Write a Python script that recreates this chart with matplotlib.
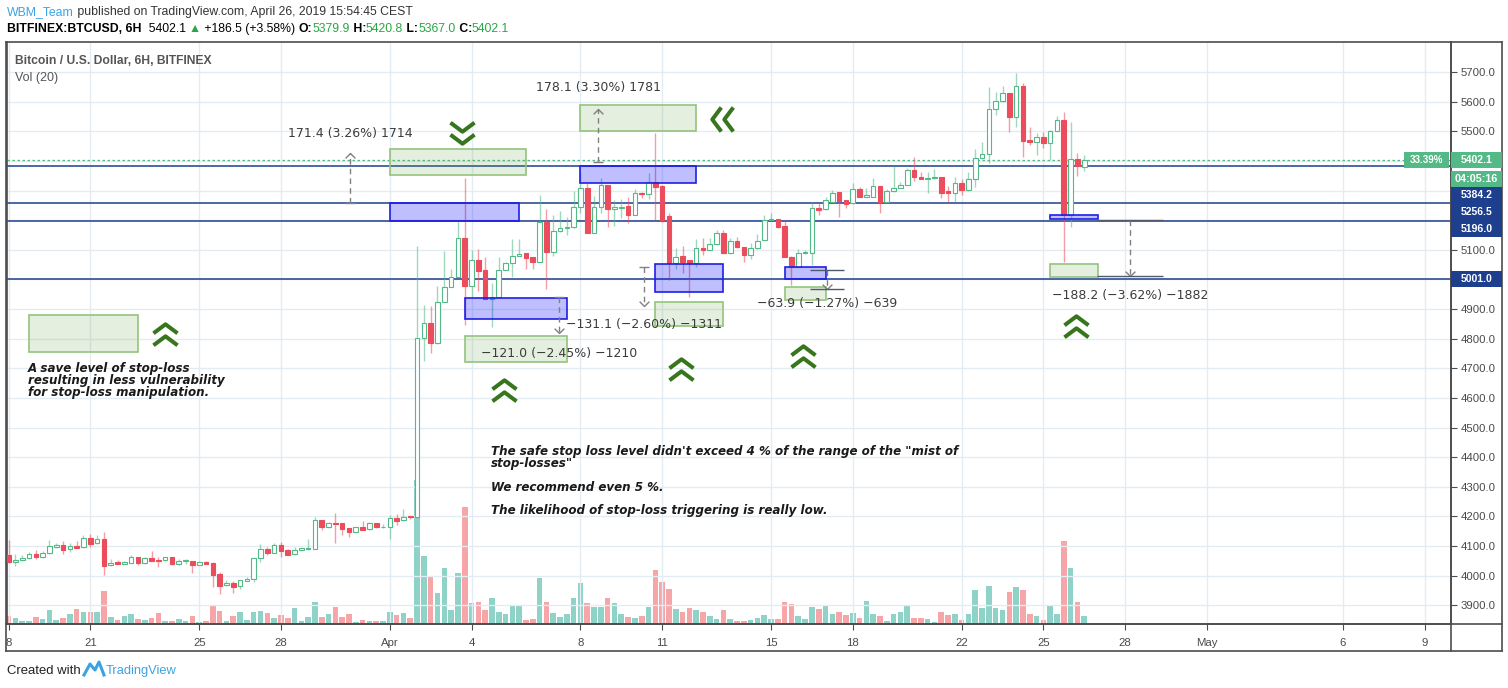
import numpy as np
import pandas as pd
import matplotlib
matplotlib.use("Agg")
import matplotlib.pyplot as plt
import matplotlib.dates as mdates
from matplotlib.patches import Rectangle
from matplotlib.lines import Line2D
from matplotlib.path import Path

# Datos de las velas (6H, BITFINEX BTC/USD)
START = "2019-03-18 00:00"
opens = [4070, 4047, 4053, 4059, 4073, 4064, 4076, 4098, 4104, 4089, 4100, 4096, 4126, 4109, 4124, 4035, 4046, 4041, 4044, 4063,
         4044, 4060, 4053, 4052, 4062, 4041, 4049, 4048, 4037, 4046, 4043, 4006, 3967, 3975, 3964, 3982, 3990, 4059, 4089, 4078,
         4102, 4086, 4072, 4086, 4091, 4091, 4187, 4166, 4177, 4177, 4161, 4149, 4163, 4156, 4177, 4163, 4166, 4194, 4187, 4199,
         4197, 4801, 4852, 4784, 4925, 4975, 5009, 5139, 4979, 5066, 5032, 4934, 4942, 5032, 5054, 5079, 5088, 5075, 5060, 5193,
         5094, 5162, 5172, 5176, 5243, 5307, 5158, 5243, 5318, 5236, 5240, 5248, 5217, 5293, 5287, 5329, 5315, 5214, 5056, 5079,
         5065, 5056, 5106, 5099, 5118, 5155, 5088, 5131, 5108, 5084, 5105, 5133, 5200, 5203, 5180, 5077, 5043, 5088, 5090, 5241,
         5236, 5262, 5294, 5268, 5257, 5304, 5279, 5279, 5315, 5262, 5297, 5308, 5319, 5369, 5345, 5340, 5343, 5344, 5298, 5290,
         5324, 5302, 5338, 5409, 5422, 5574, 5601, 5628, 5549, 5654, 5470, 5465, 5482, 5459, 5502, 5538, 5217, 5405, 5379.9]
highs = [4120, 4073, 4069, 4079, 4087, 4083, 4120, 4112, 4117, 4109, 4117, 4137, 4141, 4137, 4148, 4056, 4052, 4050, 4071, 4064,
         4062, 4083, 4062, 4062, 4063, 4058, 4056, 4049, 4048, 4049, 4045, 4014, 3985, 3982, 3984, 3997, 4059, 4107, 4098, 4111,
         4114, 4089, 4096, 4093, 4123, 4197, 4188, 4182, 4212, 4178, 4162, 4164, 4185, 4182, 4178, 4174, 4206, 4208, 4224, 4202,
         5113, 4914, 4910, 4978, 5097, 5035, 5200, 5341, 5099, 5101, 5074, 4987, 5074, 5060, 5135, 5135, 5089, 5076, 5285, 5237,
         5217, 5231, 5211, 5300, 5358, 5324, 5281, 5341, 5319, 5268, 5273, 5277, 5304, 5294, 5358, 5493, 5320, 5223, 5107, 5113,
         5066, 5136, 5139, 5139, 5167, 5167, 5139, 5144, 5109, 5122, 5153, 5217, 5225, 5204, 5200, 5078, 5102, 5099, 5262, 5259,
         5279, 5302, 5295, 5269, 5327, 5313, 5307, 5343, 5316, 5304, 5383, 5330, 5375, 5412, 5363, 5364, 5372, 5345, 5315, 5347,
         5338, 5364, 5439, 5465, 5650, 5634, 5653, 5629, 5695, 5664, 5515, 5495, 5499, 5503, 5551, 5566, 5532, 5425, 5420.8]
lows = [4043, 4034, 4050, 4058, 4056, 4061, 4074, 4095, 4074, 4079, 4094, 4094, 4098, 4106, 4002, 4034, 4039, 4038, 4043, 4036,
        4041, 4050, 4030, 4051, 4036, 4037, 4040, 4010, 4035, 4040, 3963, 3938, 3965, 3943, 3954, 3981, 3980, 4047, 4070, 4077,
        4064, 4069, 4071, 4085, 4087, 4089, 4154, 4160, 4112, 4138, 4132, 4148, 4154, 4155, 4162, 4162, 4125, 4171, 4186, 4190,
        4196, 4726, 4750, 4783, 4924, 4974, 5008, 4846, 4942, 4962, 4933, 4838, 4941, 5031, 5009, 5078, 5036, 5034, 5059, 4966,
        5080, 5161, 5150, 5175, 5225, 5157, 5157, 5225, 5176, 5180, 5206, 5191, 5216, 5274, 5272, 5200, 5195, 4998, 5034, 5020,
        4939, 5043, 5082, 5098, 5117, 5087, 5087, 5107, 5060, 5069, 5104, 5132, 5199, 5175, 5077, 4981, 5042, 5087, 5049, 5217,
        5235, 5261, 5212, 5240, 5256, 5278, 5278, 5278, 5225, 5261, 5296, 5307, 5318, 5333, 5339, 5293, 5340, 5274, 5262, 5262,
        5285, 5299, 5313, 5408, 5394, 5555, 5600, 5499, 5515, 5414, 5453, 5420, 5442, 5403, 5501, 5060, 5178, 5349, 5367.0]
closes = [4047, 4052, 4060, 4072, 4064, 4076, 4099, 4104, 4088, 4099, 4095, 4126, 4107, 4123, 4034, 4043, 4040, 4046, 4062, 4044,
          4059, 4051, 4051, 4062, 4040, 4049, 4051, 4037, 4045, 4041, 4002, 3966, 3974, 3962, 3984, 3990, 4059, 4089, 4075, 4102,
          4083, 4070, 4086, 4092, 4092, 4187, 4166, 4177, 4176, 4159, 4149, 4163, 4155, 4177, 4163, 4166, 4194, 4186, 4197, 4197,
          4801, 4852, 4784, 4925, 4975, 5009, 5139, 4979, 5066, 5030, 4934, 4942, 5032, 5054, 5079, 5086, 5073, 5058, 5193, 5094,
          5162, 5172, 5176, 5243, 5307, 5158, 5243, 5318, 5236, 5243, 5246, 5217, 5290, 5287, 5329, 5313, 5200, 5056, 5074, 5060,
          5056, 5105, 5099, 5118, 5155, 5088, 5131, 5108, 5084, 5105, 5131, 5200, 5204, 5178, 5077, 5041, 5088, 5092, 5240, 5235,
          5268, 5293, 5266, 5256, 5304, 5279, 5284, 5315, 5262, 5297, 5307, 5319, 5369, 5345, 5340, 5343, 5344, 5293, 5290, 5324,
          5302, 5338, 5409, 5422, 5574, 5601, 5628, 5549, 5654, 5468, 5465, 5482, 5459, 5502, 5538, 5217, 5405, 5383, 5402.1]
volumes = [8, 6, 3, 3, 7, 5, 14, 4, 6, 10, 15, 12, 12, 12, 33, 7, 4, 8, 10, 5,
           4, 6, 11, 3, 3, 5, 3, 8, 2, 3, 18, 13, 3, 8, 12, 4, 12, 13, 11, 6,
           9, 6, 16, 3, 7, 22, 7, 10, 17, 7, 10, 2, 4, 3, 3, 3, 12, 9, 11, 6,
           144, 68, 47, 31, 56, 14, 51, 117, 21, 22, 14, 26, 12, 10, 19, 19, 4, 5, 46, 22,
           11, 7, 10, 26, 41, 21, 17, 17, 26, 21, 10, 7, 6, 8, 17, 54, 42, 35, 15, 12,
           16, 14, 12, 8, 5, 14, 5, 3, 3, 4, 6, 9, 5, 5, 22, 20, 8, 5, 17, 15,
           19, 10, 12, 9, 11, 6, 23, 10, 8, 3, 10, 12, 18, 6, 6, 5, 2, 12, 9, 10,
           4, 10, 34, 16, 38, 16, 14, 32, 37, 34, 10, 8, 4, 18, 10, 83, 56, 22, 8]

tick_dates = ["2019-03-18", "2019-03-21", "2019-03-25", "2019-03-28", "2019-04-01", "2019-04-04",
              "2019-04-08", "2019-04-11", "2019-04-15", "2019-04-18", "2019-04-22", "2019-04-25",
              "2019-04-28", "2019-05-01", "2019-05-06", "2019-05-09"]
tick_labels = ["8", "21", "25", "28", "Apr", "4", "8", "11", "15", "18", "22", "25", "28", "May", "6", "9"]
price_ticks = list(range(3900, 5701, 100))
hidden_ticks = [5000, 5200, 5300, 5400]   # tapados por las etiquetas
level_lines = [5384.2, 5256.5, 5196.0, 5001.0]
last_price = 5402.1

# Colores
UP = "#53b987"
DOWN = "#eb4d5c"
VOL_UP = "#8fd2c8"
VOL_DN = "#f6a6a8"
GRID = "#e3ecf2"
NAVY = "#1d3f8e"
AXC = "#4d4d4d"
TXT = "#4a4a4a"
DKGREEN = "#38761d"
TVBLUE = "#3ba3e3"
SANS = ["Liberation Sans", "DejaVu Sans"]

FW, FH = 1508, 688
fig = plt.figure(figsize=(FW / 100, FH / 100), dpi=100)
fig.patch.set_facecolor("white")
renderer = fig.canvas.get_renderer()


def fx(px):
    return px / FW


def fy(py):
    return 1 - py / FH


def fit(t, width):
    w = t.get_window_extent(renderer).width
    t.set_fontsize(t.get_fontsize() * width / w)
    return t


rect = [fx(7), fy(624), (1451 - 7) / FW, (624 - 42) / FH]
axv = fig.add_axes(rect)
ax = fig.add_axes(rect, sharex=axv)
ax.patch.set_visible(False)
axv.axis("off")

d0 = mdates.date2num(pd.Timestamp(START))
xs = mdates.date2num(pd.date_range(START, periods=len(opens), freq="6h"))

ax.set_xlim(d0 - 0.059, d0 + 52.97)
ax.set_ylim(3837.0, 5801.25)
axv.set_ylim(0, 582)

# Volumen
vcols = [VOL_UP if c >= o else VOL_DN for o, c in zip(opens, closes)]
axv.bar(xs, volumes, width=0.205, color=vcols, zorder=1)

# Rejilla y ejes
ax.set_xticks(mdates.date2num(pd.to_datetime(tick_dates)))
ax.set_xticklabels(tick_labels)
ax.set_yticks(price_ticks)
ax.set_yticklabels(["" if v in hidden_ticks else f"{v:.1f}" for v in price_ticks])
ax.yaxis.tick_right()
ax.grid(True, color=GRID, lw=1)
ax.set_axisbelow(True)
ax.tick_params(axis="y", direction="out", length=4, pad=3, labelsize=8.2, colors=AXC, labelcolor=TXT)
ax.tick_params(axis="x", direction="out", length=4, pad=6, labelsize=8.2, colors=AXC, labelcolor=TXT)
for lab in ax.get_xticklabels() + ax.get_yticklabels():
    lab.set_family(SANS)
ax.spines["top"].set_visible(False)
for s in ["left", "bottom", "right"]:
    ax.spines[s].set_color(AXC)
    ax.spines[s].set_linewidth(1.2)

# Lineas horizontales
for lv in level_lines:
    ax.axhline(lv, color=NAVY, lw=1.1, zorder=2)
ax.axhline(last_price, color=UP, lw=0.9, ls=(0, (2, 2)), zorder=2)

# Velas
bw = 0.17
for t, o, h, l, c in zip(xs, opens, highs, lows, closes):
    up = c >= o
    col = UP if up else DOWN
    top, bot = max(o, c), min(o, c)
    ax.vlines(t, top, h, color=col, alpha=0.55, lw=1, zorder=3)
    ax.vlines(t, l, bot, color=col, alpha=0.55, lw=1, zorder=3)
    hgt = max(top - bot, 3.0)
    ax.add_patch(Rectangle((t - bw / 2, bot), bw, hgt, facecolor="white" if up else col,
                           edgecolor=col, lw=0.8, zorder=4))

# Cajas (azules y verdes)
blue_boxes = [(14, 18.75, 5196.0, 5256.5), (21, 25.25, 5324, 5384.2), (16.75, 20.5, 4865, 4936),
              (23.75, 26.25, 4958, 5051), (28.5, 30.0, 5003, 5041), (38.25, 40.0, 5203, 5217)]
green_boxes = [(0.75, 4.75, 4756, 4880), (14, 19, 5352, 5440), (21, 25.25, 5501, 5589),
               (16.75, 20.5, 4720, 4810), (23.75, 26.25, 4843, 4925), (28.5, 30.0, 4930, 4976),
               (38.25, 40.0, 5007, 5052)]
for a, b, p0, p1 in blue_boxes:
    ax.add_patch(Rectangle((d0 + a, p0), b - a, p1 - p0, facecolor=(0.0, 0.0, 1.0, 0.25),
                           edgecolor="#1f1fe6", lw=1.2, zorder=5))
for a, b, p0, p1 in green_boxes:
    ax.add_patch(Rectangle((d0 + a, p0), b - a, p1 - p0, facecolor=(0.42, 0.66, 0.31, 0.18),
                           edgecolor="#93c47d", lw=1.2, zorder=5))

# Mediciones
head_dn = Path([(-1, 1), (0, 0), (1, 1)], [Path.MOVETO, Path.LINETO, Path.LINETO])
head_up = Path([(-1, -1), (0, 0), (1, -1)], [Path.MOVETO, Path.LINETO, Path.LINETO])
measures = [
    (12.55, 5256.5, 5427.9, "171.4 (3.26%) 1714", 5494, None),
    (21.65, 5397.0, 5575.1, "178.1 (3.30%) 1781", 5649, None),
    (23.33, 5042.0, 4910.9, "\u2212131.1 (\u22122.60%) \u22121311", 4849, None),
    (20.21, 4939.0, 4818.0, "\u2212121.0 (\u22122.45%) \u22121210", 4751, None),
    (30.05, 5031.5, 4967.6, "\u221263.9 (\u22121.27%) \u2212639", 4917, (29.43, 30.68)),
    (41.18, 5199.0, 5010.8, "\u2212188.2 (\u22123.62%) \u22121882", 4944, (39.97, 42.39)),
]
for t, p0, p1, label, tp, span in measures:
    ax.plot([d0 + t, d0 + t], [p0, p1], color="#808080", lw=1, ls=(0, (4, 3)), zorder=6)
    ax.plot([d0 + t], [p1], marker=head_up if p1 > p0 else head_dn, ms=7, mew=1,
            color="#808080", mfc="none", zorder=6)
    if span is None:
        ax.plot([d0 + t], [p0], marker="_", ms=7, mew=1, color="#808080", zorder=6)
    else:
        ax.hlines([p0, p1], d0 + span[0], d0 + span[1], color="#505a6e", lw=1, zorder=6)
    ax.text(d0 + t, tp, label, ha="center", va="center", fontsize=9.0, color="#3c3c3c", zorder=7)

# Chevrones
up_chev = Path([(-1, 0.1), (0, 0.85), (1, 0.1), (-1, -0.9), (0, -0.15), (1, -0.9)],
               [Path.MOVETO, Path.LINETO, Path.LINETO, Path.MOVETO, Path.LINETO, Path.LINETO])
dn_chev = Path([(x, -y) for x, y in up_chev.vertices], up_chev.codes)
lf_chev = Path([(-y, x) for x, y in up_chev.vertices], up_chev.codes)
chevrons = [(5.725, 4815, up_chev), (18.19, 4627, up_chev), (24.69, 4698, up_chev),
            (29.17, 4742, up_chev), (39.20, 4843, up_chev), (16.65, 5494, dn_chev), (26.2, 5541, lf_chev)]
for t, p, m in chevrons:
    ax.plot([d0 + t], [p], marker=m, ms=17.3, mew=2.9, color=DKGREEN, mfc="none", zorder=7)

# Textos en cursiva
ax.text(d0 + 0.71, 4721, "A save level of stop-loss\nresulting in less vulnerability\nfor stop-loss manipulation.",
        ha="left", va="top", fontsize=8.6, style="oblique", weight="bold", color="#1a1a1a",
        linespacing=0.92, zorder=7)
ax.text(d0 + 17.72, 4440,
        "The safe stop loss level didn't exceed 4 % of the range of the \"mist of\nstop-losses\"\n\n"
        "We recommend even 5 %.\n\nThe likelihood of stop-loss triggering is really low.",
        ha="left", va="top", fontsize=8.6, style="oblique", weight="bold", color="#1a1a1a",
        linespacing=0.88, zorder=7)

# Marco exterior
def fig_line(x0, y0, x1, y1, **kw):
    fig.add_artist(Line2D([fx(x0), fx(x1)], [fy(y0), fy(y1)], transform=fig.transFigure, **kw))


for seg in [(6, 42, 1502, 42), (6, 651, 1502, 651), (6, 42, 6, 651), (1502, 42, 1502, 651),
            (6, 624, 1502, 624), (1451, 42, 1451, 651)]:
    fig_line(*seg, color=AXC, lw=1.2)


# Etiquetas del eje de precios
def ypx(p):
    return FH - ax.transData.transform((d0, p))[1]


def tag(y, text, color, width, x0=1451, x1=1502):
    fig.add_artist(Rectangle((fx(x0), fy(y + 8.2)), (x1 - x0) / FW, 16.4 / FH, transform=fig.transFigure,
                             facecolor=color, edgecolor="none", zorder=10))
    t = fig.text(fx((x0 + x1) / 2), fy(y), text, ha="center", va="center", color="white", fontsize=8,
                 weight="bold", family=SANS, zorder=11)
    fit(t, width)


y_last = ypx(last_price)
tag(y_last, f"{last_price:.1f}", UP, 32)
tag(y_last, "33.39%", UP, 33, 1404, 1449)
y_prev = y_last + 18.5
tag(y_prev, "04:05:16", UP, 44)
for lv in level_lines:
    y_prev = max(ypx(lv), y_prev + 16.6)
    tag(y_prev, f"{lv:.1f}", NAVY, 32)


# Cabecera
def write_row(x, y, pieces, width):
    texts = [fig.text(0, fy(y), s, ha="left", va="center", color=c, fontsize=10, weight=w, family=SANS)
             for s, c, w in pieces]
    total = sum(t.get_window_extent(renderer).width for t in texts)
    for t in texts:
        t.set_fontsize(10 * width / total)
    for t in texts:
        t.set_x(fx(x))
        x += t.get_window_extent(renderer).width


GRN = "#28a745"
write_row(7, 12, [("WBM_Team", TVBLUE, "normal"),
                  (" published on TradingView.com, April 26, 2019 15:54:45 CEST", "#333333", "normal")], 406)
write_row(7, 29, [("BITFINEX:BTCUSD, 6H", "black", "bold"), ("  5402.1 ", "black", "normal"),
                  ("\u25b2", GRN, "normal"), (" +186.5 (+3.58%) ", "black", "normal"),
                  ("O:", "black", "bold"), ("5379.9", GRN, "normal"), (" H:", "black", "bold"),
                  ("5420.8", GRN, "normal"), (" L:", "black", "bold"), ("5367.0", GRN, "normal"),
                  (" C:", "black", "bold"), ("5402.1", GRN, "normal")], 503)
fit(fig.text(fx(15), fy(61), "Bitcoin / U.S. Dollar, 6H, BITFINEX", ha="left", va="center", color="#555555",
             fontsize=9, weight="bold", family=SANS), 197)
fit(fig.text(fx(15), fy(78), "Vol (20)", ha="left", va="center", color="#555555", fontsize=9, family=SANS), 43)

# Pie
fit(fig.text(fx(7), fy(671), "Created with", ha="left", va="center", color="#222222", fontsize=9, family=SANS), 74)
fig.add_artist(Line2D([fx(84), fx(90), fx(95), fx(99), fx(104)], [fy(675), fy(664), fy(670), fy(662), fy(675)],
                      transform=fig.transFigure, color=TVBLUE, lw=2.2))
fit(fig.text(fx(106), fy(671), "TradingView", ha="left", va="center", color=TVBLUE, fontsize=9, family=SANS), 71)

fig.savefig("out.png", dpi=100)
